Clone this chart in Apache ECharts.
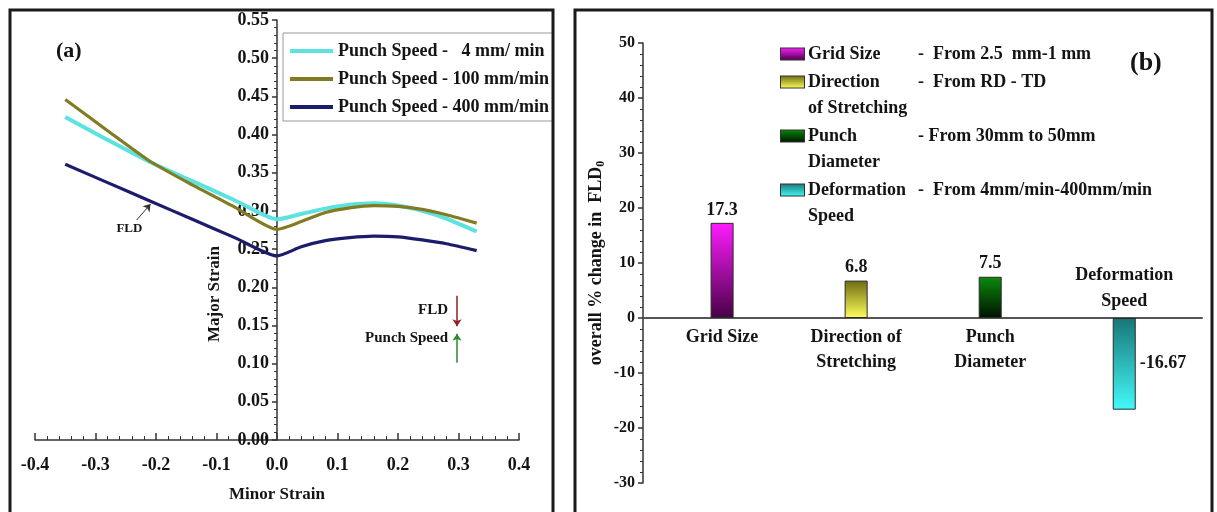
<!DOCTYPE html>
<html>
<head>
<meta charset="utf-8">
<script src="https://cdn.jsdelivr.net/npm/echarts@6/dist/echarts.min.js"></script>
<style>
  html, body { margin: 0; padding: 0; background: #fff; }
  #c { width: 1217px; height: 512px; }
</style>
</head>
<body>
<div id="c"></div>
<script>
// (a) forming limit curves
var minorStrain = [-0.35, -0.28, -0.21, -0.14, -0.07, 0, 0.04, 0.08, 0.12, 0.16, 0.2, 0.24, 0.28, 0.33];
var speed4 = [0.423, 0.393, 0.364, 0.339, 0.314, 0.289, 0.296, 0.303, 0.308, 0.310, 0.307, 0.300, 0.290, 0.273];
var speed100 = [0.446, 0.405, 0.365, 0.334, 0.305, 0.276, 0.286, 0.298, 0.304, 0.307, 0.306, 0.302, 0.295, 0.284];
var speed400 = [0.361, 0.337, 0.313, 0.289, 0.265, 0.241, 0.253, 0.261, 0.265, 0.267, 0.266, 0.262, 0.257, 0.248];
var lineNames = ['Punch Speed -   4 mm/ min', 'Punch Speed - 100 mm/min', 'Punch Speed - 400 mm/min'];

// (b) overall change in FLD0
var factors = ['Grid Size', 'Direction of Stretching', 'Punch Diameter', 'Deformation Speed'];
var changes = [17.3, 6.8, 7.5, -16.67];
var axisNames = ['Grid Size', 'Direction of\nStretching', 'Punch\nDiameter', ''];
var legendKeys = [['Grid Size'], ['Direction', 'of Stretching'], ['Punch', 'Diameter'], ['Deformation', 'Speed']];
var legendRanges = ['-  From 2.5  mm-1 mm', '-  From RD - TD', '- From 30mm to 50mm', '-  From 4mm/min-400mm/min'];

var FONT = 'Liberation Serif';
var INK = '#141414';

function grad(top, bottom) {
    return new echarts.graphic.LinearGradient(0, 0, 0, 1, [
        { offset: 0, color: top }, { offset: 1, color: bottom }
    ]);
}
var barGrads = [
    ['#ff1cff', '#480046'],
    ['#6e6a12', '#ffff5a'],
    ['#0b8a0b', '#001200'],
    ['#177676', '#44fafa']
];

function pairs(xs, ys) {
    return xs.map(function (x, i) { return [x, ys[i]]; });
}

var myChart = echarts.init(document.getElementById('c'));

var lineColors = ['#5ce3e0', '#837b22', '#1c1c6c'];
var lineSeries = [speed4, speed100, speed400].map(function (ys, i) {
    return {
        name: lineNames[i],
        type: 'line',
        xAxisIndex: 0,
        yAxisIndex: 0,
        data: pairs(minorStrain, ys),
        color: lineColors[i],
        showSymbol: false,
        smooth: 0.2,
        lineStyle: { width: i === 0 ? 4 : 3.2, color: lineColors[i] },
        z: i === 1 ? 4 : 3,
        animation: false
    };
});

// annotation arrows on panel (a)
lineSeries[2].markLine = {
    silent: true,
    animation: false,
    symbol: ['none', 'arrow'],
    symbolSize: 7,
    data: [
        [{ coord: [-0.232, 0.288], lineStyle: { color: '#333', width: 1, type: 'solid' },
           label: { show: true, position: 'start', distance: 11, formatter: 'FLD', fontFamily: FONT, fontWeight: 'bold', fontSize: 13, color: INK } },
         { coord: [-0.209, 0.309] }],
        [{ coord: [0.2975, 0.189], lineStyle: { color: '#8a2222', width: 1.5, type: 'solid' }, label: { show: false } },
         { coord: [0.2975, 0.149] }],
        [{ coord: [0.2975, 0.101], lineStyle: { color: '#2b8b2b', width: 1.5, type: 'solid' }, label: { show: false } },
         { coord: [0.2975, 0.139] }]
    ]
};

var barSeries = factors.map(function (name, i) {
    var v = changes[i];
    return {
        name: name,
        type: 'bar',
        xAxisIndex: 1,
        yAxisIndex: 1,
        barWidth: 23,
        barGap: '-100%',
        data: [[i, v]],
        itemStyle: { color: grad(barGrads[i][0], barGrads[i][1]), borderColor: '#2a2a2a', borderWidth: 1 },
        label: {
            show: true,
            position: v >= 0 ? 'top' : 'right',
            distance: 4,
            formatter: String(v),
            fontFamily: FONT, fontWeight: 'bold', fontSize: 18, color: INK
        },
        animation: false
    };
});

// category name that sits above the axis for the negative bar
barSeries.push({
    type: 'scatter',
    xAxisIndex: 1,
    yAxisIndex: 1,
    symbolSize: 0,
    silent: true,
    itemStyle: { opacity: 1 },
    data: [[3, 5.4]],
    label: {
        show: true, position: 'inside', formatter: 'Deformation\nSpeed',
        fontFamily: FONT, fontWeight: 'bold', fontSize: 18, lineHeight: 26, color: INK, opacity: 1
    },
    animation: false
});

var legendRich = {
    a: { width: 110, fontFamily: FONT, fontWeight: 'bold', fontSize: 18, color: INK, lineHeight: 26 },
    b: { fontFamily: FONT, fontWeight: 'bold', fontSize: 18, color: INK, lineHeight: 26 },
    ind: { width: 27, height: 11 },
    gap: { width: 4, height: 11 }
};
barGrads.forEach(function (g, i) {
    legendRich['s' + i] = { width: 23, height: 11, backgroundColor: grad(g[0], g[1]), borderColor: '#333', borderWidth: 1 };
});

var option = {
    backgroundColor: '#fff',
    animation: false,
    grid: [
        { left: 35, right: 698, top: 20, bottom: 72, outerBoundsMode: 'none', containLabel: false },
        { left: 643, right: 15, top: 43, bottom: 29, outerBoundsMode: 'none', containLabel: false }
    ],
    legend: [
        {
            data: lineNames,
            orient: 'vertical',
            left: 283,
            top: 33,
            padding: [9, 4, 5, 7],
            itemGap: 10,
            itemWidth: 43,
            itemHeight: 4,
            icon: 'rect',
            borderColor: '#9a9a9a',
            borderWidth: 1,
            selectedMode: false,
            textStyle: { fontFamily: FONT, fontWeight: 'bold', fontSize: 18, color: INK }
        },
        {
            data: factors,
            orient: 'vertical',
            left: 775,
            top: 41,
            padding: 0,
            itemGap: 2,
            itemWidth: 0,
            itemHeight: 0,
            icon: 'rect',
            selectedMode: false,
            formatter: function (name) {
                var i = factors.indexOf(name);
                var k = legendKeys[i];
                var s = '{s' + i + '|}{gap|}{a|' + k[0] + '}{b|' + legendRanges[i] + '}';
                if (k[1]) s += '\n{ind|}{a|' + k[1] + '}';
                return s;
            },
            textStyle: { fontFamily: FONT, fontWeight: 'bold', fontSize: 18, color: INK, lineHeight: 26, rich: legendRich }
        }
    ],
    xAxis: [
        {
            type: 'value',
            gridIndex: 0,
            min: -0.4,
            max: 0.4,
            interval: 0.1,
            name: 'Minor Strain',
            nameLocation: 'middle',
            nameGap: 46,
            nameTextStyle: { fontFamily: FONT, fontWeight: 'bold', fontSize: 17, color: INK },
            axisLine: { onZero: false, lineStyle: { color: '#333', width: 1.5 } },
            axisTick: { inside: true, length: 7, lineStyle: { color: '#333', width: 1.5 } },
            minorTick: { show: true, splitNumber: 5, length: 4, lineStyle: { color: '#333' } },
            splitLine: { show: false },
            axisLabel: {
                margin: 16,
                formatter: function (v) { return v.toFixed(1); },
                fontFamily: FONT, fontWeight: 'bold', fontSize: 18, color: INK
            }
        },
        {
            type: 'value',
            gridIndex: 1,
            min: -0.59,
            max: 3.58,
            position: 'bottom',
            offset: -165,
            axisLine: { onZero: false, lineStyle: { color: '#555', width: 2 } },
            axisTick: { show: false },
            splitLine: { show: false },
            axisLabel: {
                customValues: [0, 1, 2],
                margin: 7,
                formatter: function (v) { return axisNames[Math.round(v)] || ''; },
                fontFamily: FONT, fontWeight: 'bold', fontSize: 18, lineHeight: 25, color: INK
            }
        }
    ],
    yAxis: [
        {
            type: 'value',
            gridIndex: 0,
            min: 0,
            max: 0.55,
            interval: 0.05,
            position: 'left',
            offset: -242,
            name: 'Major Strain',
            nameLocation: 'middle',
            nameGap: 54,
            nameTextStyle: { fontFamily: FONT, fontWeight: 'bold', fontSize: 17, color: INK, padding: [0, 128, 0, 0] },
            axisLine: { onZero: false, lineStyle: { color: '#333', width: 1.5 } },
            axisTick: { length: 5, lineStyle: { color: '#333', width: 1.5 } },
            minorTick: { show: true, splitNumber: 5, length: 3, lineStyle: { color: '#333' } },
            splitLine: { show: false },
            axisLabel: {
                margin: 8,
                formatter: function (v) { return v.toFixed(2); },
                fontFamily: FONT, fontWeight: 'bold', fontSize: 18, color: INK
            }
        },
        {
            type: 'value',
            gridIndex: 1,
            min: -30,
            max: 50,
            interval: 10,
            name: 'overall % change in  FLD{sub|0}',
            nameLocation: 'middle',
            nameGap: 36,
            nameTextStyle: {
                fontFamily: FONT, fontWeight: 'bold', fontSize: 18, color: INK,
                rich: { sub: { fontFamily: FONT, fontWeight: 'bold', fontSize: 12, color: INK, padding: [10, 0, 0, 0] } }
            },
            axisLine: { onZero: false, lineStyle: { color: '#333', width: 1.5 } },
            axisTick: { length: 5, lineStyle: { color: '#333', width: 1.5 } },
            minorTick: { show: true, splitNumber: 5, length: 3, lineStyle: { color: '#333' } },
            splitLine: { show: false },
            axisLabel: { margin: 8, fontFamily: FONT, fontWeight: 'bold', fontSize: 16, color: INK }
        }
    ],
    graphic: [
        { type: 'rect', shape: { x: 10, y: 10, width: 543, height: 520 }, style: { fill: 'none', stroke: '#1a1a1a', lineWidth: 3 }, z: 100 },
        { type: 'rect', shape: { x: 575, y: 10, width: 637, height: 520 }, style: { fill: 'none', stroke: '#1a1a1a', lineWidth: 3 }, z: 100 },
        { type: 'text', left: 56, top: 40, style: { text: '(a)', font: 'bold 22px "Liberation Serif"', fill: INK } },
        { type: 'text', left: 1130, top: 50, style: { text: '(b)', font: 'bold 26px "Liberation Serif"', fill: INK } },
        { type: 'text', right: 1217 - 448, top: 303, style: { text: 'FLD', font: 'bold 15px "Liberation Serif"', fill: INK } },
        { type: 'text', right: 1217 - 448, top: 331, style: { text: 'Punch Speed', font: 'bold 15px "Liberation Serif"', fill: INK } }
    ],
    series: lineSeries.concat(barSeries)
};
myChart.setOption(option);
</script>
</body>
</html>
